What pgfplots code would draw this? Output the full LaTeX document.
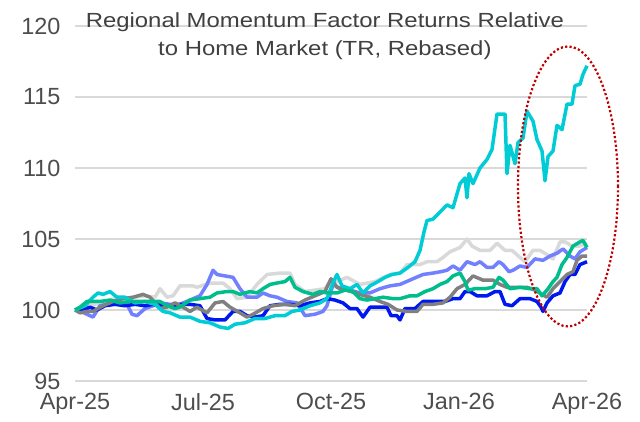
\documentclass[border=0pt]{standalone}
\usepackage{pgfplots}
\pgfplotsset{compat=1.18}
\usepackage{fontspec}
\setmainfont{Liberation Sans}
\newfontfamily\titlefont[FakeStretch=1.17]{Liberation Sans}
\definecolor{cyanc}{RGB}{0,204,214}
\definecolor{lgray}{RGB}{217,217,217}
\definecolor{peri}{RGB}{112,128,255}
\definecolor{dgray}{RGB}{128,128,128}
\definecolor{greenc}{RGB}{0,190,140}
\definecolor{dblue}{RGB}{0,24,240}
\definecolor{txt}{RGB}{77,77,77}
\definecolor{ttl}{RGB}{64,64,64}
\definecolor{gridc}{RGB}{217,217,217}
\definecolor{ell}{RGB}{192,0,0}
\begin{document}
\begin{tikzpicture}
\begin{axis}[
  scale only axis, width=512bp, height=355bp,
  xmin=0, xmax=512, ymin=95, ymax=120,
  axis line style={draw=none},
  major tick length=0pt,
  ymajorgrids, grid style={gridc, line width=1.3bp},
  xtick={0,128,256,384,512},
  xticklabels={Apr-25,Jul-25,Oct-25,Jan-26,Apr-26},
  ytick={95,100,105,110,115,120},
  tick label style={font=\fontsize{23.5}{28}\selectfont, text=txt},
  xticklabel style={yshift=-9bp},
  yticklabel style={xshift=-11bp},
  /pgf/number format/assume math mode=true,
  clip=false,
  every axis plot/.append style={line width=3.5bp, line join=round, no markers},
]
% light gray
\addplot[lgray] coordinates {
(0,100.0)(10,100.3)(20,100.4)(30,100.6)(40,100.8)(50,100.7)(60,100.9)(70,101.0)(80,100.9)(85,101.5)(92,100.9)(98,101.0)(105,101.7)(118,101.7)(122,101.6)(135,101.9)(148,101.9)(155,101.5)(162,100.8)(172,100.9)(182,101.8)(192,102.5)(205,102.6)(215,102.6)(220,101.8)(230,101.3)(240,101.4)(250,101.5)(255,102.0)(262,102.0)(272,102.3)(285,101.8)(300,102.0)(315,102.5)(325,102.6)(332,103.2)(345,103.2)(352,103.4)(362,103.4)(368,103.7)(375,104.1)(385,104.4)(392,105.0)(397,104.5)(405,104.2)(415,104.2)(422,104.7)(430,104.2)(437,104.2)(445,103.7)(450,103.4)(458,104.2)(465,104.2)(472,103.9)(478,103.6)(485,104.8)(490,104.8)(497,104.5)(504,104.5)(512,104.7)};
% periwinkle
\addplot[peri] coordinates {
(0,100.0)(6,99.9)(12,99.7)(18,99.5)(25,100.3)(32,100.4)(40,100.5)(52,100.4)(57,99.7)(62,99.6)(70,100.1)(78,100.3)(85,100.5)(95,100.4)(105,100.4)(115,100.7)(125,101.0)(132,101.8)(138,102.8)(142,102.5)(150,102.4)(158,102.3)(165,101.5)(172,100.9)(182,100.9)(188,101.2)(195,101.0)(202,100.9)(212,100.6)(222,100.5)(230,99.6)(240,99.7)(248,99.9)(252,100.3)(258,101.8)(265,101.5)(275,101.4)(285,101.2)(295,101.2)(305,101.5)(315,101.7)(325,101.8)(338,102.2)(348,102.5)(358,102.6)(366,102.7)(372,102.8)(378,103.1)(385,102.8)(392,103.4)(400,103.2)(405,103.4)(412,103.0)(418,103.0)(424,103.4)(428,103.2)(434,102.7)(438,102.8)(445,103.1)(452,103.0)(460,103.6)(468,103.5)(475,103.8)(482,104.0)(488,104.3)(495,103.8)(500,103.6)(505,104.1)(512,104.4)};
% dark blue
\addplot[dblue] coordinates {
(0,100.0)(8,100.0)(15,100.2)(22,100.0)(30,100.3)(40,100.4)(50,100.3)(60,100.4)(70,100.3)(78,100.4)(88,100.3)(98,100.3)(105,100.4)(115,100.4)(125,100.3)(132,99.4)(140,99.3)(150,99.3)(158,99.9)(165,99.9)(172,99.6)(180,99.5)(188,99.6)(195,100.3)(205,100.4)(215,100.4)(225,100.3)(235,100.5)(245,100.6)(252,100.8)(260,100.7)(268,100.5)(275,100.1)(282,100.1)(288,99.5)(295,100.2)(305,100.2)(312,100.2)(316,99.6)(322,99.6)(325,99.3)(330,100.1)(340,100.1)(348,100.6)(360,100.6)(370,100.6)(378,100.8)(385,100.8)(390,101.3)(395,101.3)(402,101.0)(412,101.0)(420,101.3)(425,101.3)(430,100.4)(437,100.3)(445,100.8)(455,100.8)(462,100.6)(466,100.2)(468,99.9)(472,100.5)(478,101.0)(485,101.2)(490,102.0)(495,102.5)(500,102.5)(505,103.2)(512,103.4)};
% dark gray
\addplot[dgray] coordinates {
(0,100.0)(5,99.8)(12,99.9)(18,99.9)(28,100.3)(38,100.6)(48,100.8)(58,100.9)(68,101.1)(75,100.9)(85,100.1)(92,100.2)(100,100.5)(108,100.2)(115,99.9)(122,100.2)(132,99.8)(140,100.5)(148,100.6)(155,100.2)(165,99.8)(172,99.5)(178,99.7)(188,100.1)(198,100.3)(210,100.4)(220,100.3)(230,100.7)(240,101.0)(250,101.3)(256,102.2)(262,101.6)(272,101.4)(285,101.1)(295,100.9)(305,100.6)(313,100.4)(322,100.0)(332,99.9)(342,99.9)(348,100.4)(358,100.4)(368,100.5)(375,100.9)(382,101.5)(390,101.8)(398,102.4)(408,102.1)(418,102.1)(425,101.8)(432,101.6)(442,101.6)(452,101.6)(460,101.4)(467,101.1)(472,100.9)(478,101.5)(485,102.0)(492,102.5)(498,102.7)(502,103.5)(507,103.8)(512,103.8)};
% cyan
\addplot[cyanc] coordinates {
(0,100.0)(10,100.3)(18,100.9)(23,101.2)(28,101.1)(35,101.3)(42,100.9)(50,100.9)(60,100.5)(70,100.6)(80,100.4)(88,99.9)(95,99.8)(105,99.5)(115,99.5)(125,99.2)(135,99.1)(145,98.8)(153,98.7)(160,99.0)(170,99.1)(180,99.4)(190,99.4)(200,99.6)(210,99.6)(217,99.9)(225,100.0)(235,100.3)(245,100.5)(252,100.8)(258,101.9)(262,102.5)(267,101.7)(275,101.5)(282,101.8)(288,101.2)(295,101.7)(303,102.0)(310,102.3)(317,102.5)(325,102.6)(333,103.0)(340,103.4)(345,104.2)(349,105.5)(352,106.3)(358,106.4)(365,106.9)(372,107.4)(378,107.2)(385,108.9)(390,109.3)(392,107.9)(394,109.6)(398,108.9)(405,110.0)(412,110.6)(417,111.3)(422,113.8)(430,113.8)(432,109.6)(435,111.6)(440,110.3)(443,111.8)(448,112.1)(452,114.0)(458,113.3)(462,112.0)(467,111.2)(470,109.1)(473,110.8)(478,111.2)(482,113.0)(487,112.7)(492,114.5)(497,114.5)(500,115.8)(505,115.9)(508,116.6)(512,117.2)};
% green
\addplot[greenc] coordinates {
(0,100.0)(5,100.2)(12,100.6)(25,100.6)(35,100.7)(45,100.5)(55,100.6)(65,100.6)(75,100.6)(85,100.6)(92,100.3)(100,100.1)(105,100.2)(115,100.7)(125,100.8)(135,100.9)(142,101.2)(152,101.3)(158,101.3)(165,101.1)(175,101.3)(182,101.2)(188,101.5)(195,101.8)(202,101.9)(210,102.0)(215,102.3)(220,101.6)(228,101.3)(238,101.1)(245,101.3)(252,101.2)(262,101.2)(270,101.4)(278,101.3)(285,100.8)(292,100.7)(300,100.8)(308,100.9)(318,100.8)(325,100.8)(335,101.0)(342,101.0)(350,101.3)(358,101.5)(365,101.8)(372,102.0)(378,102.4)(385,102.6)(390,102.0)(393,101.4)(400,101.5)(410,101.5)(418,101.6)(424,102.3)(428,102.1)(435,101.5)(445,101.6)(455,101.5)(462,101.5)(467,101.0)(472,101.4)(478,102.0)(482,102.3)(487,103.2)(492,103.7)(498,104.5)(505,104.8)(508,104.9)(512,104.4)};
\draw[ell, line width=2.2bp, dash pattern=on 2.2bp off 2.2bp] (axis cs:493,108.7) ellipse [x radius=50bp, y radius=140bp];
\node[font=\titlefont\fontsize{20.5}{28}\selectfont, text=ttl, align=center] at (axis description cs:0.488,1) [yshift=-10bp] {Regional Momentum Factor Returns Relative\\to Home Market (TR, Rebased)};
\end{axis}
\pgfresetboundingbox
\path (-75bp,-41bp) rectangle (565bp,381bp);
\end{tikzpicture}
\end{document}
